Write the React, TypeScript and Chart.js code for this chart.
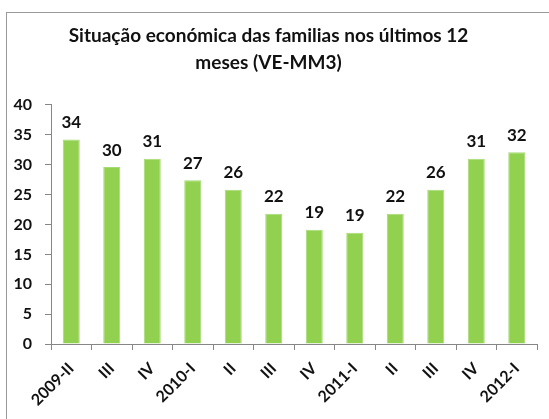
import React, { useEffect, useRef } from "react";
import { Chart, registerables } from "chart.js";

Chart.register(...registerables);

const categories = ["2009-II", "III", "IV", "2010-I", "II", "III", "IV", "2011-I", "II", "III", "IV", "2012-I"];
const values = [34.2, 29.6, 31.0, 27.4, 25.8, 21.8, 19.1, 18.6, 21.8, 25.8, 31.0, 32.1];
const titleLines = ["Situação económica das familias nos últimos 12", "meses (VE-MM3)"];
const yMin = 0;
const yMax = 40;
const yStep = 5;

const FONT = 'Lato, "Open Sans", sans-serif';

const frame = {
  id: "frame",
  beforeDraw(chart: any) {
    const { ctx, width, height } = chart;
    ctx.save();
    ctx.fillStyle = "#ffffff";
    ctx.fillRect(0, 0, width, height);
    ctx.strokeStyle = "#9a9a9a";
    ctx.lineWidth = 1;
    ctx.strokeRect(6.5, 12.5, width + 10, height + 10);
    ctx.restore();
  },
};

const valueLabels = {
  id: "valueLabels",
  afterDatasetsDraw(chart: any) {
    const { ctx } = chart;
    const meta = chart.getDatasetMeta(0);
    ctx.save();
    ctx.font = `bold 17px ${FONT}`;
    ctx.fillStyle = "#111111";
    ctx.textAlign = "center";
    ctx.textBaseline = "middle";
    meta.data.forEach((bar: any, i: number) => {
      ctx.fillText(String(Math.round(values[i])), bar.x, bar.y - 17);
    });
    ctx.restore();
  },
};

export default function App() {
  const ref = useRef<HTMLCanvasElement | null>(null);
  useEffect(() => {
    document.body.style.margin = "0";
    const chart = new Chart(ref.current as HTMLCanvasElement, {
      type: "bar",
      data: {
        labels: categories,
        datasets: [
          {
            data: values,
            backgroundColor: "#92D050",
            borderColor: "#a6da74",
            borderWidth: 1,
            categoryPercentage: 1,
            barPercentage: 0.42,
          },
        ],
      },
      options: {
        responsive: false,
        animation: false,
        layout: { padding: { left: 0, right: 12, top: 0, bottom: 0 } },
        plugins: {
          legend: { display: false },
          tooltip: { enabled: false },
          title: {
            display: true,
            text: titleLines,
            color: "#111111",
            font: { family: FONT, size: 19, weight: "bold", lineHeight: 1.42 },
            padding: { top: 22, bottom: 29 },
          },
        },
        scales: {
          x: {
            offset: true,
            grid: {
              offset: true,
              drawOnChartArea: false,
              drawTicks: true,
              tickLength: 6,
              color: "#868686",
            },
            border: { display: true, color: "#868686" },
            ticks: {
              minRotation: 45,
              maxRotation: 45,
              autoSkip: false,
              padding: 9,
              color: "#111111",
              font: { family: FONT, size: 16, weight: "bold" },
            },
            afterFit(scale: any) {
              scale.height = 75;
            },
          },
          y: {
            min: yMin,
            max: yMax,
            grid: {
              drawOnChartArea: false,
              drawTicks: true,
              tickLength: 6,
              color: "#868686",
            },
            border: { display: true, color: "#868686" },
            ticks: {
              stepSize: yStep,
              padding: 13,
              color: "#111111",
              font: { family: FONT, size: 16, weight: "bold" },
            },
            afterFit(scale: any) {
              scale.width = 51;
            },
          },
        },
      },
      plugins: [frame, valueLabels],
    });
    return () => chart.destroy();
  }, []);
  return (
    <div style={{ position: "absolute", left: 0, top: 0, width: 549, height: 419 }}>
      <canvas ref={ref} width={549} height={419} />
    </div>
  );
}
